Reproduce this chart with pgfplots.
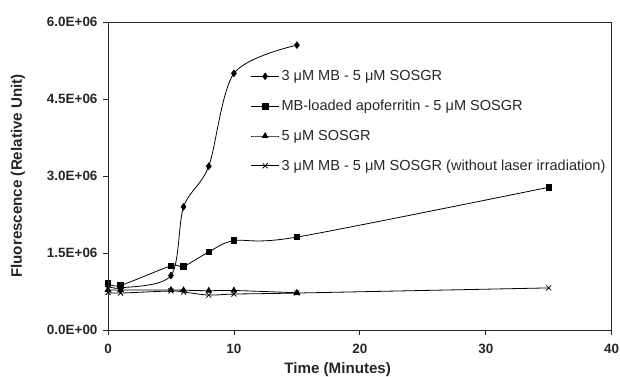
\documentclass[border=0pt]{standalone}
\usepackage{pgfplots}
\pgfplotsset{compat=1.18}
\usepackage{fontspec}
\setmainfont{Liberation Sans}
\begin{document}
\begin{tikzpicture}
\begin{axis}[
  name=ax, at={(0,0)}, anchor=south west,
  scale only axis, width=503.7bp, height=308bp,
  xmin=0, xmax=40, ymin=0, ymax=6000000,
  xtick={0,10,20,30,40}, xticklabels={0,10,20,30,40},
  ytick={0,1500000,3000000,4500000,6000000},
  yticklabels={0.0E+00,1.5E+06,3.0E+06,4.5E+06,6.0E+06},
  scaled y ticks=false,
  tick align=outside, major tick length=5bp,
  xtick pos=bottom, ytick pos=left,
  axis line style={line width=0.9pt, black!85},
  tick style={line width=0.8pt, black!85},
  ticklabel style={font=\bfseries\fontsize{13.5}{16}\selectfont, text=black!85},
  xticklabel style={yshift=-6bp},
  yticklabel style={xshift=-2bp},
  xlabel={Time (Minutes)}, ylabel={Fluorescence (Relative Unit)},
  label style={font=\bfseries\fontsize{15.2}{17}\selectfont, text=black!85},
  xlabel style={at={(axis description cs:0.456,-0.127)}, anchor=center},
  ylabel style={at={(axis description cs:-0.179,0.5)}, anchor=center},
  legend style={draw=none, fill=none, at={(axis description cs:0.283,0.678)}, anchor=west,
    font=\fontsize{14.6}{17}\selectfont, text=black!85, row sep=14bp, inner sep=0pt},
  legend cell align=left,
  legend image code/.code={\draw[mark repeat=2,mark phase=2] plot coordinates {(0bp,0bp)(14bp,0bp)(28bp,0bp)};},
]
\addplot[black, line width=0.8pt, smooth, tension=0.5, mark=diamond*, mark size=3.2bp, mark options={fill=black, solid}] coordinates {
(0,860000) (1,820000) (5,1060000) (6,2400000) (8,3190000) (10,5000000) (15,5550000)};
\addlegendentry{3 μM MB - 5 μM SOSGR}
\addplot[black, line width=0.8pt, smooth, tension=0.5, mark=square*, mark size=2.8bp, mark options={fill=black, solid}] coordinates {
(0,910000) (1,870000) (5,1250000) (6,1240000) (8,1520000) (10,1740000) (15,1810000) (35,2780000)};
\addlegendentry{MB-loaded apoferritin - 5 μM SOSGR}
\addplot[black, line width=0.8pt, smooth, tension=0.5, mark=triangle*, mark size=3.2bp, mark options={fill=black, solid}] coordinates {
(0,780000) (1,780000) (5,780000) (6,775000) (8,765000) (10,770000) (15,725000)};
\addlegendentry{5 μM SOSGR}
\addplot[black, line width=0.8pt, smooth, tension=0.5, mark=x, mark size=3.5bp, mark options={solid}] coordinates {
(0,730000) (1,720000) (5,760000) (6,740000) (8,680000) (10,700000) (15,720000) (35,820000)};
\addlegendentry{3 μM MB - 5 μM SOSGR (without laser irradiation)}
\end{axis}
\draw[line width=0.9pt, black!85] (ax.north west) rectangle (ax.south east);
\pgfresetboundingbox
\useasboundingbox (-108bp,-47bp) rectangle (512bp,330bp);
\end{tikzpicture}
\end{document}
